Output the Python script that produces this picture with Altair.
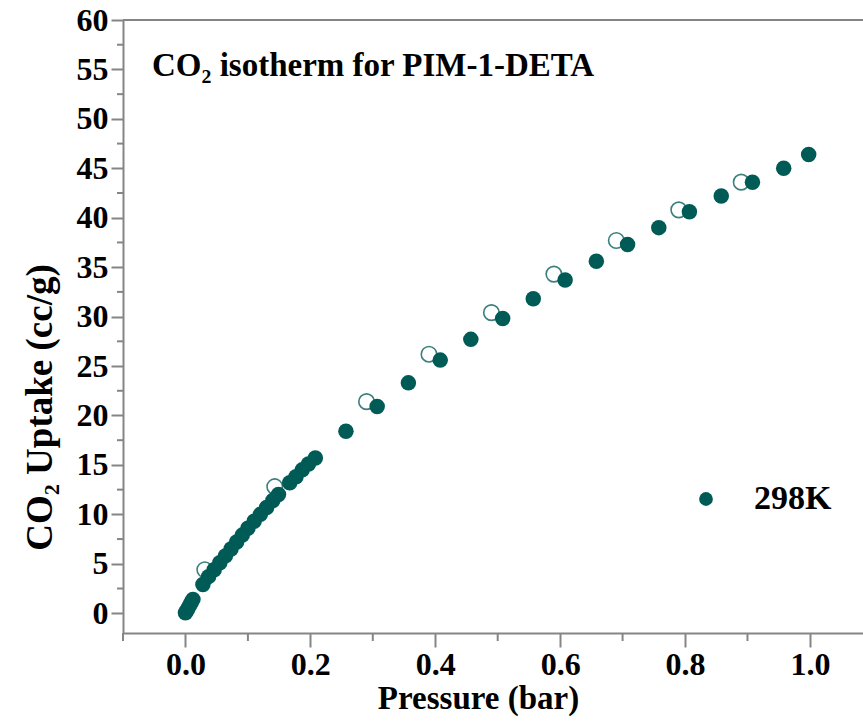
import altair as alt
import pandas as pd

# Adsorption (filled) points: pressure (bar), uptake (cc/g)
ads_p = [0.000, 0.003, 0.006, 0.009, 0.012,
         0.028, 0.037, 0.046, 0.055, 0.064, 0.073, 0.082, 0.091, 0.100,
         0.110, 0.120, 0.130, 0.140, 0.149,
         0.167, 0.177, 0.187, 0.197, 0.208,
         0.257, 0.307, 0.357, 0.408, 0.457, 0.508, 0.557, 0.608, 0.658,
         0.708, 0.758, 0.807, 0.858, 0.908, 0.958, 0.998]
ads_v = [0.05, 0.35, 0.70, 1.05, 1.40,
         2.9, 3.7, 4.4, 5.1, 5.8, 6.5, 7.2, 7.9, 8.6,
         9.3, 10.0, 10.7, 11.4, 12.0,
         13.2, 13.8, 14.5, 15.1, 15.7,
         18.4, 20.9, 23.3, 25.6, 27.7, 29.8, 31.8, 33.7, 35.6,
         37.3, 39.0, 40.6, 42.2, 43.6, 45.0, 46.4]

# Desorption (open) points
des_p = [0.031, 0.143, 0.290, 0.390, 0.490, 0.590, 0.690, 0.790, 0.890]
des_v = [4.4, 12.8, 21.4, 26.2, 30.4, 34.3, 37.7, 40.8, 43.6]

series_name = "298K"
x_major = [0.0, 0.2, 0.4, 0.6, 0.8, 1.0]
x_minor = [-0.1, 0.1, 0.3, 0.5, 0.7, 0.9]
y_major = list(range(0, 61, 5))
y_minor = [2.5 + 5 * i for i in range(12)]

TEAL = "#005b56"
GRAY = "#858585"
FONT = "Liberation Serif"

ads = pd.DataFrame({"p": ads_p, "v": ads_v, "series": series_name})
des = pd.DataFrame({"p": des_p, "v": des_v})
xminor_df = pd.DataFrame({"p": x_minor})
yminor_df = pd.DataFrame({"v": y_minor})

xscale = alt.Scale(domain=[-0.1, 1.085], nice=False, zero=False)
yscale = alt.Scale(domain=[-2, 60], nice=False, zero=False)

xaxis = alt.Axis(values=x_major, format=".1f", title="Pressure (bar)", grid=False,
                 tickSize=14, tickWidth=2, tickColor=GRAY, domainColor=GRAY, domainWidth=2,
                 labelFont=FONT, labelFontSize=32, labelFontWeight="bold", labelColor="black",
                 labelPadding=2, titleFont=FONT, titleFontSize=33, titleFontWeight="bold",
                 titleColor="black", titlePadding=2, titleX=355, labelFlush=False)
yaxis = alt.Axis(values=y_major, title="CO₂ Uptake (cc/g)", grid=False,
                 tickSize=12, tickWidth=2, tickColor=GRAY, domainColor=GRAY, domainWidth=2,
                 labelFont=FONT, labelFontSize=32, labelFontWeight="bold", labelColor="black",
                 labelPadding=3, titleFont=FONT, titleFontSize=37, titleFontWeight="bold",
                 titleColor="black", titlePadding=17, titleY=387, labelFlush=False)

open_pts = alt.Chart(des).mark_point(shape="circle", filled=False, size=240,
                                      stroke="#3a807c", strokeWidth=1.6, opacity=1).encode(
    x=alt.X("p:Q", scale=xscale, axis=xaxis),
    y=alt.Y("v:Q", scale=yscale, axis=yaxis),
)

filled_pts = alt.Chart(ads).mark_circle(size=240, opacity=1).encode(
    x=alt.X("p:Q", scale=xscale),
    y=alt.Y("v:Q", scale=yscale),
    color=alt.Color("series:N", scale=alt.Scale(domain=[series_name], range=[TEAL]),
                    legend=alt.Legend(title=None, orient="none", legendX=566, legendY=462,
                                      symbolSize=190, symbolType="circle", labelOffset=31,
                                      labelFont=FONT, labelFontSize=34, labelFontWeight="bold",
                                      labelColor="black")),
)

xminor = alt.Chart(xminor_df).mark_rule(color=GRAY, strokeWidth=2).encode(
    x=alt.X("p:Q", scale=xscale), y=alt.value(613), y2=alt.value(621))

yminor = alt.Chart(yminor_df).mark_rule(color=GRAY, strokeWidth=2).encode(
    y=alt.Y("v:Q", scale=yscale), x=alt.value(-6), x2=alt.value(0))

top_frame = alt.Chart(pd.DataFrame({"a": [0]})).mark_rule(color=GRAY, strokeWidth=2).encode(
    y=alt.value(0))

title_txt = alt.Chart(pd.DataFrame({"t": ["CO₂ isotherm for PIM-1-DETA"]})).mark_text(
    align="left", baseline="alphabetic", font=FONT, fontSize=33, fontWeight="bold", color="black"
).encode(text="t:N", x=alt.value(29), y=alt.value(56))

chart = alt.layer(top_frame, xminor, yminor, open_pts, filled_pts, title_txt).properties(
    width=740, height=613,
    padding={"left": 123, "top": 20, "right": 0, "bottom": 88},
    autosize=alt.AutoSizeParams(type="none"),
).configure_view(stroke=None).configure(background="white")

chart.save("out.html", embed_options={"renderer": "svg", "actions": False})
